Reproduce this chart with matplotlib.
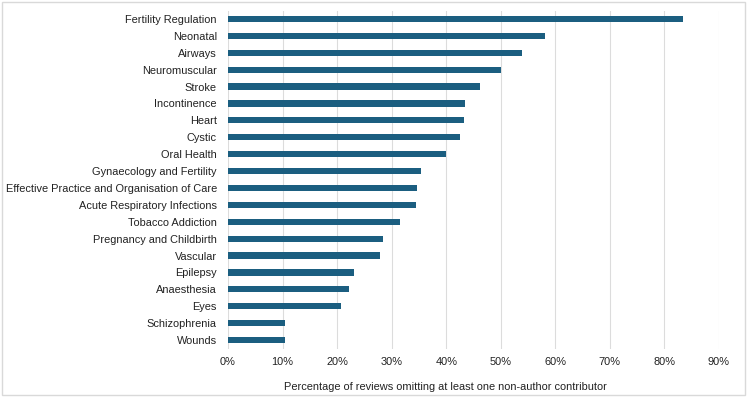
import matplotlib.pyplot as plt
from matplotlib.patches import Rectangle
from matplotlib.ticker import PercentFormatter

plt.rcParams['font.family'] = ['Liberation Sans', 'DejaVu Sans']

groups = ['Fertility Regulation', 'Neonatal', 'Airways', 'Neuromuscular', 'Stroke',
          'Incontinence', 'Heart', 'Cystic', 'Oral Health', 'Gynaecology and Fertility',
          'Effective Practice and Organisation of Care', 'Acute Respiratory Infections',
          'Tobacco Addiction', 'Pregnancy and Childbirth', 'Vascular', 'Epilepsy',
          'Anaesthesia', 'Eyes', 'Schizophrenia', 'Wounds']
pct = [83.4, 58.1, 53.9, 50.0, 46.2, 43.5, 43.2, 42.5, 40.0, 35.3,
       34.6, 34.5, 31.6, 28.4, 27.8, 23.1, 22.2, 20.8, 10.5, 10.5]

fig = plt.figure(figsize=(7.47, 3.97), dpi=100)
W, H = 747, 397
ax = fig.add_axes([228 / W, 1 - 348.5 / H, (719 - 228) / W, (348.5 - 10.5) / H])

fs = 7.9
ypos = list(range(len(groups)))
ax.barh(ypos, pct, height=0.37, color='#1b5e80', zorder=3)
ax.set_yticks(ypos)
ax.set_yticklabels(groups, fontsize=fs, color='#222222')
ax.set_ylim(len(groups) - 0.5, -0.5)
ax.set_xlim(0, 90)
ax.set_xticks(range(0, 91, 10))
ax.xaxis.set_major_formatter(PercentFormatter(decimals=0))
ax.tick_params(axis='x', labelsize=fs, colors='#222222', length=0, pad=6)
ax.tick_params(axis='y', length=0, pad=8)
ax.grid(axis='x', color='#dcdcdc', linewidth=0.8, zorder=0)
for s in ax.spines.values():
    s.set_visible(False)
ax.set_xlabel('Percentage of reviews omitting at least one non-author contributor',
              fontsize=fs, color='#222222')
ax.xaxis.set_label_coords(0.442, -0.098)

fig.patches.append(Rectangle((2 / W, 2 / H), 743 / W, 393 / H, transform=fig.transFigure,
                             fill=False, edgecolor='#d9d9d9', linewidth=1))

fig.savefig('out.png', dpi=100)
